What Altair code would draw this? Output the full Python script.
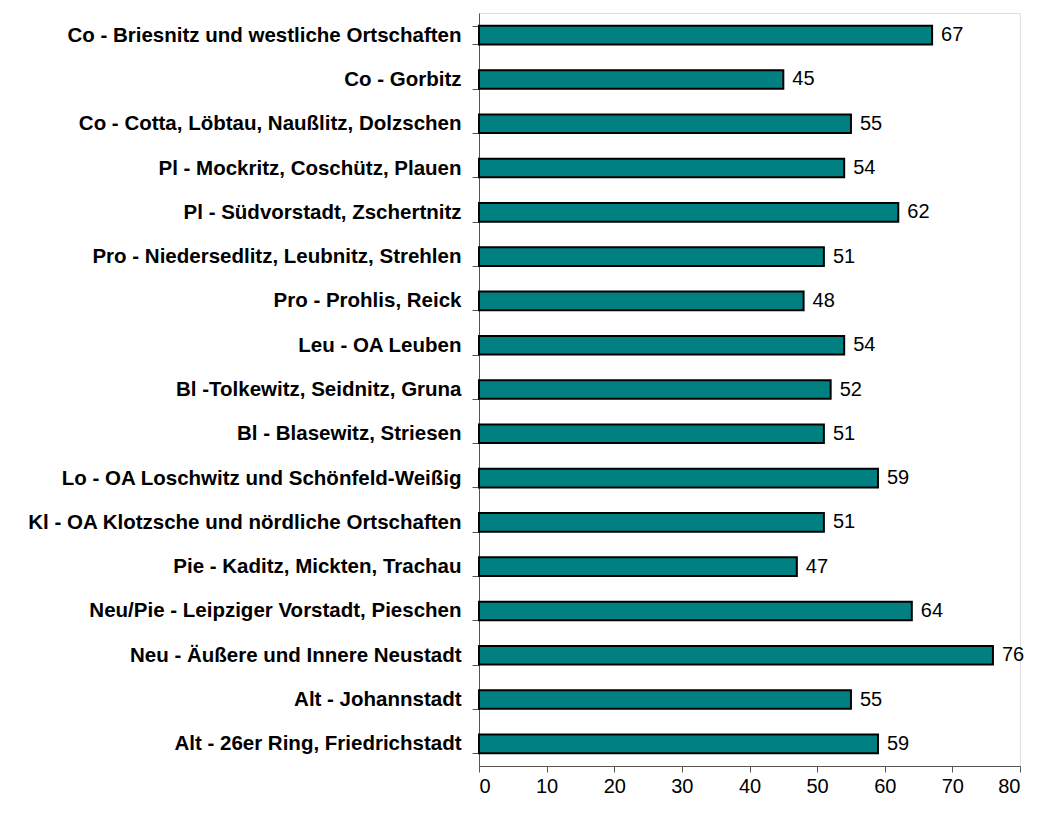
import altair as alt
import pandas as pd

categories = [
    "Co - Briesnitz und westliche Ortschaften",
    "Co - Gorbitz",
    "Co - Cotta, Löbtau, Naußlitz, Dolzschen ",
    "Pl - Mockritz, Coschütz, Plauen",
    "Pl - Südvorstadt, Zschertnitz",
    "Pro - Niedersedlitz, Leubnitz, Strehlen",
    "Pro - Prohlis, Reick",
    "Leu - OA Leuben",
    "Bl -Tolkewitz, Seidnitz, Gruna",
    "Bl - Blasewitz, Striesen",
    "Lo - OA Loschwitz und Schönfeld-Weißig",
    "Kl - OA Klotzsche und nördliche Ortschaften",
    "Pie - Kaditz, Mickten, Trachau",
    "Neu/Pie - Leipziger Vorstadt, Pieschen",
    "Neu - Äußere und Innere Neustadt",
    "Alt - Johannstadt",
    "Alt - 26er Ring, Friedrichstadt",
]
values = [67, 45, 55, 54, 62, 51, 48, 54, 52, 51, 59, 51, 47, 64, 76, 55, 59]

df = pd.DataFrame({"cat": categories, "val": values})

FONT = "Liberation Sans"

y_enc = alt.Y(
    "cat:N",
    sort=categories,
    title=None,
    scale=alt.Scale(paddingInner=0.58, paddingOuter=0.29),
    axis=alt.Axis(
        labelFont=FONT,
        labelFontSize=20.5,
        labelFontWeight="bold",
        labelColor="black",
        labelPadding=11,
        labelLimit=500,
        tickSize=7,
        tickBand="extent",
        domainColor="#555555",
        tickColor="#555555",
        domainWidth=1,
        tickWidth=1,
    ),
)
x_enc = alt.X(
    "val:Q",
    title=None,
    scale=alt.Scale(domain=[0, 80], nice=False),
    axis=alt.Axis(
        values=[0, 10, 20, 30, 40, 50, 60, 70, 80],
        grid=False,
        labelFont=FONT,
        labelFontSize=20,
        labelColor="black",
        labelPadding=4,
        tickSize=6,
        domainColor="#555555",
        tickColor="#555555",
        domainWidth=1,
        tickWidth=1,
    ),
)

bars = alt.Chart(df).mark_bar(
    color="#008080", stroke="black", strokeWidth=2
).encode(y=y_enc, x=x_enc)

labels = alt.Chart(df).mark_text(
    align="left", baseline="middle", dx=9, font=FONT, fontSize=20, color="black"
).encode(y=alt.Y("cat:N", sort=categories), x=alt.X("val:Q"), text="val:Q")

chart = (
    alt.layer(bars, labels)
    .properties(
        width=541,
        height=753,
        autosize=alt.AutoSizeParams(type="none"),
        padding={"left": 471, "top": 5, "right": 10, "bottom": 40},
    )
    .configure_view(strokeWidth=0, stroke="transparent")
    .configure(background="white")
)

chart.save("out.html", embed_options={"renderer": "svg", "actions": False})
